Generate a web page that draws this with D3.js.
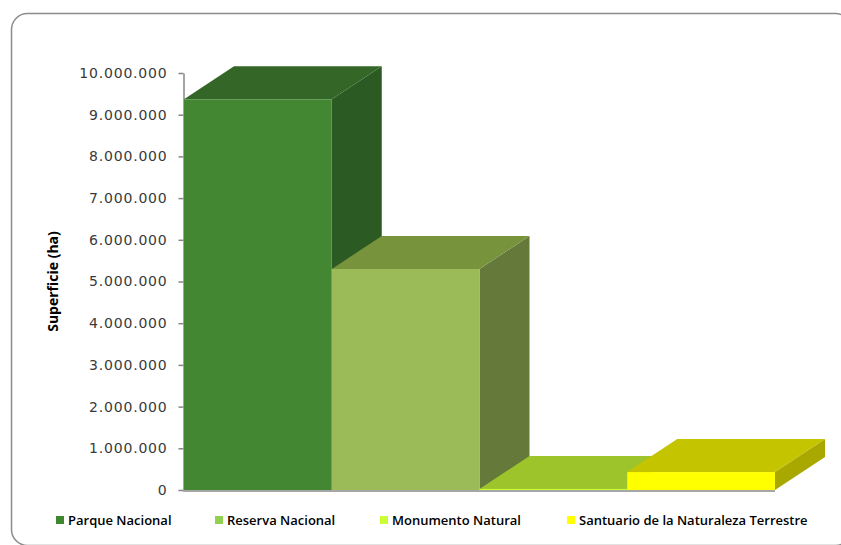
<!DOCTYPE html>
<html>
<head>
<meta charset="utf-8">
<script src="https://cdn.jsdelivr.net/npm/d3@7"></script>
<style>
	body { margin: 0; background: #fff; }
	svg { display: block; }
</style>
</head>
<body>
<div id="chart"></div>
<script>
'use strict';
(function() {
	//Chart data
	var categories = ['Parque Nacional', 'Reserva Nacional', 'Monumento Natural', 'Santuario de la Naturaleza Terrestre'];
	var values = [9370000, 5300000, 25000, 430000];
	var frontColors = ['#438733', '#9bbb59', '#ccff33', '#ffff00'];
	var topColors = ['#336627', '#77933c', '#9dc42a', '#c4c400'];
	var sideColors = ['#2b5a22', '#64793a', '#84a822', '#a8a800'];
	var legendColors = ['#3f8630', '#92d050', '#ccff33', '#ffff00'];
	var yTicks = [0, 1000000, 2000000, 3000000, 4000000, 5000000, 6000000, 7000000, 8000000, 9000000, 10000000];

	var width = 841, height = 545;
	//3D depth offset
	var depthX = 50, depthY = -33;

	var svg = d3.select('#chart').append('svg')
		.attr('width', width)
		.attr('height', height);

	//Outer rounded border
	svg.append('rect')
		.attr('x', 11.5).attr('y', 13.5)
		.attr('width', 840).attr('height', 532)
		.attr('rx', 16).attr('ry', 16)
		.style('fill', 'none')
		.style('stroke', '#8c8c8c')
		.style('stroke-width', 1.5);

	/***************************************
	 * SCALES
	 ***************************************/
	var x = d3.scaleBand()
		.domain(categories)
		.range([184, 775])
		.padding(0);
	var y = d3.scaleLinear()
		.domain([0, 10000000])
		.range([490, 73]);

	var fmt = function(d) {
		return d3.format(',')(d).replace(/,/g, '.');
	};

	//y axis
	var yAxis = svg.append('g')
		.attr('transform', 'translate(183.5,0)')
		.call(d3.axisLeft(y).tickValues(yTicks).tickFormat(fmt).tickSize(5).tickSizeOuter(0).tickPadding(11));
	yAxis.select('.domain').style('stroke', '#868686').style('stroke-width', 1.5);
	yAxis.selectAll('.tick line').style('stroke', '#868686').style('stroke-width', 1.5);
	yAxis.selectAll('.tick text')
		.style('font-family', '"DejaVu Sans", Verdana, sans-serif')
		.style('font-size', '14px')
		.style('letter-spacing', '0.8px')
		.style('fill', '#3a3a3a');

	//baseline
	svg.append('line')
		.attr('x1', 183).attr('x2', x.range()[1])
		.attr('y1', y(0) + 1).attr('y2', y(0) + 1)
		.style('stroke', '#a6a6a6')
		.style('stroke-width', 2);

	/***************************************
	 * BARS (drawn left to right so later bars cover earlier side faces)
	 ***************************************/
	var bars = svg.append('g').selectAll('g.bar')
		.data(values)
		.enter().append('g')
			.classed('bar', true);

	bars.each(function(v, i) {
		var g = d3.select(this);
		var x0 = x(categories[i]), x1 = x0 + x.bandwidth();
		var y0 = y(0), y1 = y(v);
		//side face
		g.append('path')
			.attr('d', 'M' + x1 + ',' + y1 + 'L' + (x1 + depthX) + ',' + (y1 + depthY) +
				'L' + (x1 + depthX) + ',' + (y0 + depthY) + 'L' + x1 + ',' + y0 + 'Z')
			.style('fill', sideColors[i]);
		//top face
		g.append('path')
			.attr('d', 'M' + x0 + ',' + y1 + 'L' + (x0 + depthX) + ',' + (y1 + depthY) +
				'L' + (x1 + depthX) + ',' + (y1 + depthY) + 'L' + x1 + ',' + y1 + 'Z')
			.style('fill', topColors[i]);
		//front face
		g.append('rect')
			.attr('x', x0).attr('y', y1)
			.attr('width', x.bandwidth())
			.attr('height', Math.max(1, y0 - y1))
			.style('fill', frontColors[i]);
	});

	//y axis title
	svg.append('text')
		.attr('transform', 'translate(58,' + ((y(0) + y(10000000)) / 2) + ') rotate(-90)')
		.attr('text-anchor', 'middle')
		.style('font-family', '"Open Sans", sans-serif')
		.style('font-size', '14px')
		.style('font-weight', 'bold')
		.style('fill', '#000')
		.text('Superficie (ha)');

	/***************************************
	 * LEGEND
	 ***************************************/
	var legendX = [56, 215, 380, 567];
	var legend = svg.append('g').selectAll('g.item')
		.data(categories)
		.enter().append('g')
			.classed('item', true)
			.attr('transform', function(d, i) { return 'translate(' + legendX[i] + ',516)'; });
	legend.append('rect')
		.attr('width', 8).attr('height', 8)
		.style('fill', function(d, i) { return legendColors[i]; });
	legend.append('text')
		.attr('x', 12).attr('y', 9)
		.style('font-family', '"Open Sans", sans-serif')
		.style('font-size', '13px')
		.style('font-weight', 600)
		.style('fill', '#000')
		.text(function(d) { return d; });
})();
</script>
</body>
</html>
